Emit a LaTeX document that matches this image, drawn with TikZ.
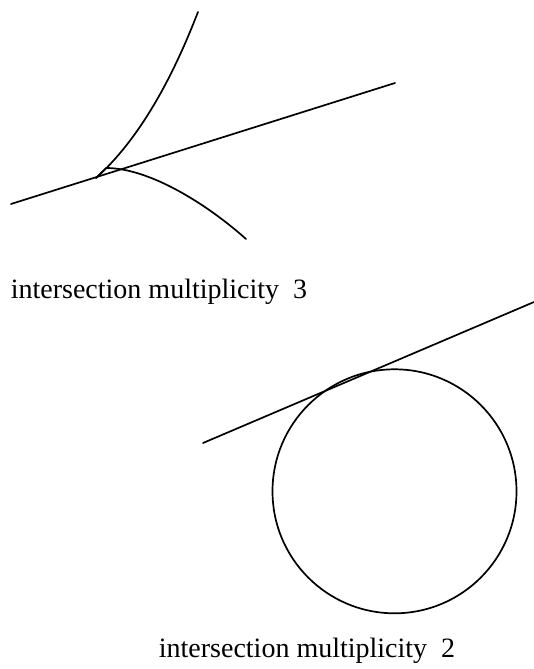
\documentclass[tikz,border=0pt]{standalone}
\usepackage{fontspec}
\setmainfont{Liberation Serif}
\usetikzlibrary{positioning}

\begin{document}
\begin{tikzpicture}[x=1pt, y=-1pt, line width=1.7pt,
    every node/.style={font=\fontsize{28}{34}\selectfont, inner sep=0pt},
    curve/.style={line cap=round, line join=round}]
  \useasboundingbox (0,0) rectangle (534,669);
  % ---- cusp against its tangent line
  \coordinate (tip) at (96,178);
  \draw[curve] (11,204) -- (395,83);
  \draw[curve] (198,12) .. controls (185,45) and (152,128) .. (tip);
  \draw[curve] (tip) -- (106,168) .. controls (150,168) and (208,205) .. (246,239);
  \node[anchor=west] (multthree) at (10,292) {intersection multiplicity\ \ 3};
  % ---- circle touched by a line
  \draw[curve] (394.5,491.3) circle[radius=122];
  \draw[curve] (203,443) -- (534,302);
  \node[anchor=west] (multtwo) at (158,651) {intersection multiplicity\ \ 2};
\end{tikzpicture}
\end{document}
